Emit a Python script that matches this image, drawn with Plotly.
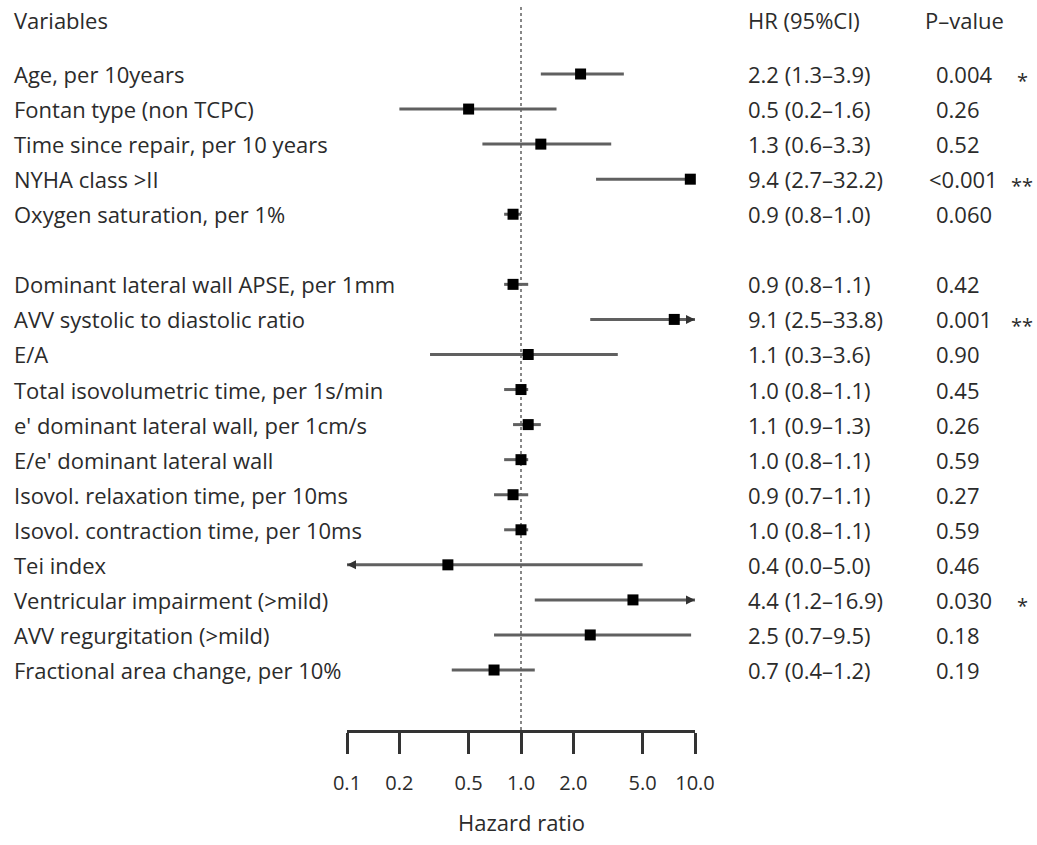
import math
import plotly.graph_objects as go

# ---------------- data ----------------
variables = [
    "Age, per 10years",
    "Fontan type (non TCPC)",
    "Time since repair, per 10 years",
    "NYHA class >II",
    "Oxygen saturation, per 1%",
    "",
    "Dominant lateral wall APSE, per 1mm",
    "AVV systolic to diastolic ratio",
    "E/A",
    "Total isovolumetric time, per 1s/min",
    "e' dominant lateral wall, per 1cm/s",
    "E/e' dominant lateral wall",
    "Isovol. relaxation time, per 10ms",
    "Isovol. contraction time, per 10ms",
    "Tei index",
    "Ventricular impairment (>mild)",
    "AVV regurgitation (>mild)",
    "Fractional area change, per 10%",
]
# marker positions as drawn
hr = [2.2, 0.5, 1.3, 9.4, 0.9, None, 0.9, 7.6, 1.1, 1.0, 1.1, 1.0, 0.9, 1.0, 0.38, 4.4, 2.5, 0.7]
lo = [1.3, 0.2, 0.6, 2.7, 0.8, None, 0.8, 2.5, 0.3, 0.8, 0.9, 0.8, 0.7, 0.8, 0.0, 1.2, 0.7, 0.4]
hi = [3.9, 1.6, 3.3, 32.2, 1.0, None, 1.1, 33.8, 3.6, 1.1, 1.3, 1.1, 1.1, 1.1, 5.0, 16.9, 9.5, 1.2]
# arrows drawn where the interval leaves the axis: 'L', 'R' or ''
arrows = ["", "", "", "", "", "", "", "R", "", "", "", "", "", "", "L", "R", "", ""]
hr_text = ["2.2 (1.3\u20133.9)", "0.5 (0.2\u20131.6)", "1.3 (0.6\u20133.3)", "9.4 (2.7\u201332.2)",
           "0.9 (0.8\u20131.0)", "", "0.9 (0.8\u20131.1)", "9.1 (2.5\u201333.8)", "1.1 (0.3\u20133.6)",
           "1.0 (0.8\u20131.1)", "1.1 (0.9\u20131.3)", "1.0 (0.8\u20131.1)", "0.9 (0.7\u20131.1)",
           "1.0 (0.8\u20131.1)", "0.4 (0.0\u20135.0)", "4.4 (1.2\u201316.9)", "2.5 (0.7\u20139.5)",
           "0.7 (0.4\u20131.2)"]
p_text = ["0.004", "0.26", "0.52", "<0.001", "0.060", "", "0.42", "0.001", "0.90", "0.45",
          "0.26", "0.59", "0.27", "0.59", "0.46", "0.030", "0.18", "0.19"]
stars = ["*", "", "", "**", "", "", "", "**", "", "", "", "", "", "", "", "*", "", ""]
tick_vals = [0.1, 0.2, 0.5, 1.0, 2.0, 5.0, 10.0]
tick_text = ["0.1", "0.2", "0.5", "1.0", "2.0", "5.0", "10.0"]
x_min, x_max = 0.1, 10.0

# ---------------- layout geometry ----------------
W, H = 1037, 845
PX_L, PX_R = 347, 695          # pixel extent of the axis
PLOT_BOTTOM = 730
ROW0_PX, ROW_STEP = 74, 35.06
FONT = "Open Sans"
TXT = "#2b2b2b"
FS = 22

def px_to_paper_x(px):
    return (px - PX_L) / (PX_R - PX_L)

def px_to_paper_y(py):
    return (PLOT_BOTTOM - py) / PLOT_BOTTOM

y_top = -ROW0_PX / ROW_STEP
y_bot = (PLOT_BOTTOM - ROW0_PX) / ROW_STEP

rows = list(range(len(variables)))

fig = go.Figure()

# CI lines
lx, ly = [], []
for i in rows:
    if hr[i] is None:
        continue
    a = max(lo[i], x_min) if lo[i] > 0 else x_min
    b = min(hi[i], x_max)
    lx += [a, b, None]
    ly += [i, i, None]
fig.add_trace(go.Scatter(x=lx, y=ly, mode="lines",
                         line=dict(color="#606060", width=3),
                         hoverinfo="skip", showlegend=False, cliponaxis=False))

# markers
mx = [hr[i] for i in rows if hr[i] is not None]
my = [i for i in rows if hr[i] is not None]
fig.add_trace(go.Scatter(x=mx, y=my, mode="markers",
                         marker=dict(symbol="square", size=11, color="black"),
                         hoverinfo="skip", showlegend=False, cliponaxis=False))

annotations = []
# arrows
for i in rows:
    if arrows[i] == "R":
        annotations.append(dict(x=math.log10(x_max), y=i, ax=math.log10(x_max) - 0.05, ay=i,
                                xref="x", yref="y", axref="x", ayref="y", text="",
                                showarrow=True, arrowhead=2, arrowsize=1.0, arrowwidth=1.8,
                                arrowcolor="#333"))
    elif arrows[i] == "L":
        annotations.append(dict(x=math.log10(x_min), y=i, ax=math.log10(x_min) + 0.05, ay=i,
                                xref="x", yref="y", axref="x", ayref="y", text="",
                                showarrow=True, arrowhead=2, arrowsize=1.0, arrowwidth=1.8,
                                arrowcolor="#333"))

# text columns
for i in rows:
    if variables[i]:
        annotations.append(dict(x=px_to_paper_x(12), y=i, xref="paper", yref="y", text=variables[i],
                                xanchor="left", yanchor="middle", showarrow=False,
                                font=dict(family=FONT, size=FS, color=TXT)))
    if hr_text[i]:
        annotations.append(dict(x=px_to_paper_x(746), y=i, xref="paper", yref="y", text=hr_text[i],
                                xanchor="left", yanchor="middle", showarrow=False,
                                font=dict(family=FONT, size=FS, color=TXT)))
    if p_text[i]:
        px = 927 if p_text[i].startswith("<") else 934
        annotations.append(dict(x=px_to_paper_x(px), y=i, xref="paper", yref="y", text=p_text[i],
                                xanchor="left", yanchor="middle", showarrow=False,
                                font=dict(family=FONT, size=FS, color=TXT)))
    if stars[i]:
        annotations.append(dict(x=px_to_paper_x(1022), y=i, xref="paper", yref="y", text=stars[i],
                                xanchor="center", yanchor="middle", showarrow=False, yshift=-6,
                                font=dict(family=FONT, size=20, color=TXT)))

# headers
header_y = px_to_paper_y(20)
for txt, px in [("Variables", 12), ("HR (95%CI)", 746), ("P\u2013value", 923)]:
    annotations.append(dict(x=px_to_paper_x(px), y=header_y, xref="paper", yref="paper", text=txt,
                            xanchor="left", yanchor="middle", showarrow=False,
                            font=dict(family=FONT, size=FS, color=TXT)))
# axis title
annotations.append(dict(x=0, y=px_to_paper_y(822), xref="x", yref="paper", text="Hazard ratio",
                        xanchor="center", yanchor="middle", showarrow=False,
                        font=dict(family=FONT, size=FS, color=TXT)))

fig.update_layout(
    width=W, height=H,
    margin=dict(l=PX_L, r=W - PX_R, t=0, b=H - PLOT_BOTTOM),
    paper_bgcolor="white", plot_bgcolor="white",
    annotations=annotations,
    shapes=[dict(type="line", xref="x", yref="paper", x0=1, x1=1,
                 y0=0, y1=px_to_paper_y(6),
                 line=dict(color="#555", width=1.4, dash="dot"), layer="below")],
    xaxis=dict(type="log", range=[math.log10(x_min), math.log10(x_max)],
               tickvals=tick_vals, ticktext=tick_text,
               showline=True, linecolor="#333", linewidth=2.5,
               ticks="outside", ticklen=21, tickwidth=2.5, tickcolor="#333",
               ticklabelstandoff=12,
               showgrid=False, zeroline=False,
               tickfont=dict(family=FONT, size=20, color=TXT)),
    yaxis=dict(range=[y_bot, y_top], showgrid=False, zeroline=False,
               showticklabels=False, showline=False, ticks=""),
    showlegend=False,
)

fig.write_html("out.html", config={"displayModeBar": False},
               post_script="document.body.style.margin='0px';")
